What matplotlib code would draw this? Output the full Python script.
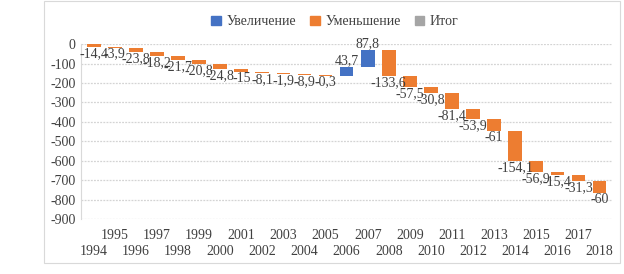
import matplotlib.pyplot as plt
from matplotlib.patches import Patch, Rectangle

years = list(range(1994, 2019))
values = [-14.4, -3.9, -23.8, -18.2, -21.7, -20.8, -24.8, -15, -8.1, -1.9, -8.9, -0.3,
          43.7, 87.8, -133.6, -57.5, -30.8, -81.4, -53.9, -61, -154.1, -56.9, -15.4, -31.3, -60]
yticks = list(range(-900, 1, 100))

c_up = "#4472C4"
c_down = "#ED7D31"
c_total = "#A5A5A5"

plt.rcParams['font.family'] = ['Liberation Serif', 'DejaVu Serif']

fig = plt.figure(figsize=(6.24, 2.74), dpi=100)
fig.patches.append(Rectangle((0.0705, 0.04), 0.923, 0.955, transform=fig.transFigure,
                             fill=False, edgecolor="#d9d9d9", lw=0.8))
ax = fig.add_axes([0.13, 0.2007, 0.851, 0.6383])

# gridlines
for t in yticks:
    ax.axhline(t, color="#d4d4d4", lw=0.9, linestyle=(0, (1.5, 1)), zorder=1)

# waterfall
cum = 0
for i, v in enumerate(values):
    col = c_up if v > 0 else c_down
    ax.bar(i, v, bottom=cum, width=0.65, color=col, zorder=3)
    end = cum + v
    txt = f"{v:.1f}".replace('.', ',') if v != int(v) else str(int(v))
    if v > 0:
        ax.text(i, end, txt, ha='center', va='bottom', fontsize=10, color="#404040", clip_on=False, zorder=4)
    else:
        ax.text(i, end, txt, ha='center', va='top', fontsize=10, color="#404040", clip_on=False, zorder=4)
    cum = end

ax.set_xlim(-0.6, len(years) - 0.4)
ax.set_ylim(-900, 0)
ax.set_yticks(yticks)
ax.set_yticklabels([str(t) for t in yticks], fontsize=10, color="#404040")

# years in two rows: even positions low, odd positions high
pos_low = list(range(0, len(years), 2))
pos_high = list(range(1, len(years), 2))
ax.set_xticks(pos_low)
ax.set_xticklabels([str(years[i]) for i in pos_low], fontsize=10, color="#404040")
ax.set_xticks(pos_high, minor=True)
ax.set_xticklabels([str(years[i]) for i in pos_high], minor=True, fontsize=10, color="#404040")
ax.tick_params(axis='both', which='both', length=0)
ax.tick_params(axis='x', which='major', pad=19)
ax.tick_params(axis='x', which='minor', pad=7)
ax.tick_params(axis='y', pad=4)

for s in ['top', 'right', 'bottom']:
    ax.spines[s].set_visible(False)
ax.spines['left'].set_color("#d9d9d9")

handles = [Patch(color=c_up, label="Увеличение"),
           Patch(color=c_down, label="Уменьшение"),
           Patch(color=c_total, label="Итог")]
fig.legend(handles=handles, loc='center', bbox_to_anchor=(0.537, 0.92), ncol=3, frameon=False,
           fontsize=10, handlelength=0.7, handleheight=0.7, handletextpad=0.4, columnspacing=1.0,
           labelcolor="#404040")

fig.savefig("out.png", dpi=100)
